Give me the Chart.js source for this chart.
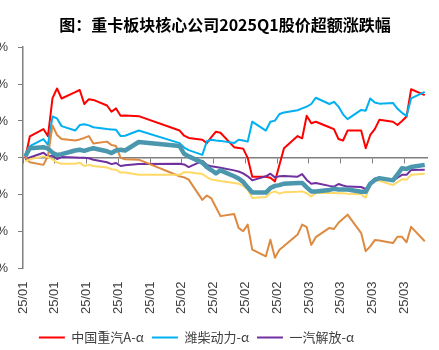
<!DOCTYPE html>
<html><head><meta charset="utf-8">
<script src="https://cdn.jsdelivr.net/npm/chart.js@4/dist/chart.umd.min.js"></script>
<style>
html,body{margin:0;padding:0;overflow:hidden;background:#fff;width:439px;height:350px;}
#wrap{position:absolute;left:-47px;top:0;width:486px;height:350px;}
canvas{display:block;}
</style></head><body>
<div id="wrap"><canvas id="c" width="486" height="350" style="width:486px;height:350px"></canvas></div>
<script>
const tradingDays = [
 '01-02','01-03','01-06','01-07','01-08','01-09','01-10','01-13','01-14','01-15','01-16','01-17','01-20','01-21','01-22','01-23','01-24','01-27',
 '02-05','02-06','02-07','02-10','02-11','02-12','02-13','02-14','02-17','02-18','02-19','02-20','02-21','02-24','02-25','02-26','02-27','02-28',
 '03-03','03-04','03-05','03-06','03-07','03-10','03-11','03-12','03-13','03-14','03-17','03-18','03-19','03-20','03-21','03-24','03-25','03-26','03-27','03-28','03-31'
];
const tickLabels = ['25/01','25/01','25/01','25/01','25/01','25/02','25/02','25/02','25/02','25/03','25/03','25/03','25/03'];

const zgzqA = [0,5.8,7.8,5.9,16.2,18.8,16.1,17.8,18.4,14.6,15.9,15.7,14.2,12.5,13.4,11.4,11.5,11.3,
 7.4,6.0,5.4,4.9,4.0,5.6,7.1,6.8,2.9,2.7,2.5,0.0,-5.1,-5.1,-5.4,-6.4,-1.9,2.6,
 5.9,5.3,11.4,9.4,9.8,8.3,7.8,5.1,4.7,7.4,7.4,2.6,6.2,7.8,10.3,9.8,8.9,10.0,11.2,18.6,17.0];
const wcdl = [0.4,3.2,5.1,3.5,11.2,10.7,8.6,7.4,8.9,9.1,8.8,8.3,7.8,7.7,7.6,5.9,6.0,7.4,
 4.0,2.8,2.1,0.8,4.5,4.9,4.7,4.6,4.0,4.9,4.7,4.4,9.8,7.4,9.8,10.1,11.9,12.3,
 12.9,13.4,13.9,14.6,16.3,14.6,15.2,13.9,11.8,10.5,13.0,12.8,16.1,15.0,14.7,14.9,13.3,12.2,11.4,16.1,17.9];
const yqjf = [-0.5,0.1,1.4,0.4,0.6,-0.3,0.2,0.1,0.0,0.0,-0.1,-0.5,-1.2,-1.7,-1.4,-2.2,-2.0,-1.7,
 -1.6,-1.8,-2.5,-0.8,-1.9,-2.3,-2.5,-2.7,-3.4,-3.7,-4.2,-5.0,-6.1,-5.0,-4.3,-5.3,-5.0,-4.9,
 -5.1,-4.4,-6.0,-7.0,-6.8,-7.6,-7.8,-7.1,-7.5,-7.8,-7.9,-8.5,-6.8,-5.6,-5.5,-6.1,-5.4,-4.6,-4.6,-3.3,-3.2];
const series4 = [0.3,-1.2,-1.9,0.5,8.8,6.2,5.1,4.7,5.0,5.4,5.9,3.9,4.4,3.5,3.2,0.0,-0.4,-0.5,
 -5.0,-5.3,-5.9,-11.4,-10.2,-11.0,-13.4,-15.8,-15.2,-19.0,-19.9,-18.1,-24.9,-26.7,-22.2,-27.1,-24.9,-23.9,
 -20.8,-18.1,-18.8,-23.6,-21.5,-19.0,-19.3,-17.6,-16.5,-15.4,-20.4,-25.3,-24.0,-22.3,-22.4,-23.1,-21.4,-21.4,-22.9,-18.7,-22.6];
const series5 = [-1.0,-0.4,0.4,0.2,-0.4,-1.3,-1.6,-1.6,-1.3,-2.2,-1.9,-2.2,-2.6,-3.1,-3.2,-4.0,-4.0,-4.6,
 -4.6,-3.9,-3.9,-4.4,-5.2,-5.9,-6.1,-6.3,-6.8,-7.0,-7.6,-8.6,-10.9,-10.6,-9.5,-9.1,-9.7,-9.3,
 -9.2,-9.1,-9.6,-10.5,-9.5,-9.5,-9.5,-9.6,-9.6,-9.7,-9.9,-10.8,-6.8,-6.2,-6.2,-7.4,-6.6,-5.8,-5.9,-4.6,-4.3];
const series6 = [0.4,2.6,2.9,2.5,1.4,0.8,1.0,2.0,2.2,1.9,2.3,2.6,1.8,1.3,2.0,2.2,2.0,4.3,
 3.2,1.1,0.4,-1.3,-2.5,-3.3,-4.2,-3.4,-5.0,-5.6,-6.5,-8.0,-9.4,-9.4,-8.2,-7.6,-7.4,-7.0,
 -6.8,-6.8,-8.0,-9.1,-9.1,-8.7,-8.4,-8.6,-8.6,-8.6,-9.2,-9.2,-7.0,-6.0,-5.5,-6.1,-4.5,-2.8,-3.0,-2.5,-1.9];

const seriesNames = ['中国重汽A-α','潍柴动力-α','一汽解放-α','系列4-α','系列5-α','系列6-α'];
const seriesColors = ['#FF0000','#00B0F0','#7030A0','#DD8A40','#FFD966','#4A97AE'];
const seriesWidths = [2,2,2,2,2,4.5];
const allSeries = [zgzqA,wcdl,yqjf,series4,series5,series6];

const base = Date.UTC(2025,0,2);
const dayPos = tradingDays.map(s => {
  const [m,d] = s.split('-').map(Number);
  return (Date.UTC(2025,m-1,d) - base)/86400000 + 0.5;
});

const datasets = allSeries.map((arr,i)=>({
  label: seriesNames[i],
  data: arr.map((v,j)=>({x: dayPos[j], y: v})),
  borderColor: seriesColors[i],
  backgroundColor: seriesColors[i],
  borderWidth: seriesWidths[i],
  pointRadius: 0,
  tension: 0,
  borderJoinStyle: 'round',
  order: 5 - i
}));

new Chart(document.getElementById('c'), {
  type: 'line',
  data: { datasets },
  options: {
    responsive: false,
    animation: false,
    layout: { padding: { left: 13, right: 12, top: 0, bottom: -4 } },
    plugins: {
      title: {
        display: true,
        text: '图：重卡板块核心公司2025Q1股价超额涨跌幅',
        fullSize: false,
        color: '#000',
        font: { family: '"Noto Sans CJK SC"', size: 16, weight: 'bold' },
        padding: { top: 15, bottom: 13 }
      },
      legend: {
        position: 'bottom',
        labels: {
          usePointStyle: true,
          pointStyle: 'line',
          pointStyleWidth: 26,
          padding: 8,
          color: '#404040',
          font: { family: '"Noto Sans CJK SC"', size: 13 },
          filter: (item) => item.datasetIndex < 3,
          sort: (a,b) => a.datasetIndex - b.datasetIndex
        }
      },
      tooltip: { enabled: false }
    },
    scales: {
      x: {
        type: 'linear', position: 'bottom', min: 0, max: 89,
        grid: { display: false, drawTicks: false },
        border: { display: false },
        ticks: {
          stepSize: 7, includeBounds: false, autoSkip: false,
          maxRotation: 90, minRotation: 90, padding: 13,
          color: '#404040',
          font: { family: '"Liberation Sans"', size: 13 },
          callback: (v) => tickLabels[Math.round(v/7)]
        },
        afterFit: (s) => { s.height = 54.5; }
      },
      x2: {
        type: 'linear', position: { y: 0 }, min: 0, max: 89,
        ticks: { display: false, stepSize: 7, includeBounds: false },
        grid: { drawOnChartArea: false, drawTicks: true, tickLength: 5, color: '#7f7f7f', lineWidth: 1 },
        border: { display: true, color: '#7f7f7f', width: 1.5 }
      },
      y: {
        min: -30, max: 30,
        ticks: {
          stepSize: 10, padding: 10, color: '#404040',
          font: { family: '"Liberation Sans"', size: 13 },
          callback: (v) => v + '%'
        },
        grid: { drawOnChartArea: false, drawTicks: true, tickLength: 5, color: '#7f7f7f' },
        border: { color: '#7f7f7f', width: 1.5 },
        afterFit: (s) => { s.width = 57; }
      }
    }
  }
});
</script>
</body></html>
